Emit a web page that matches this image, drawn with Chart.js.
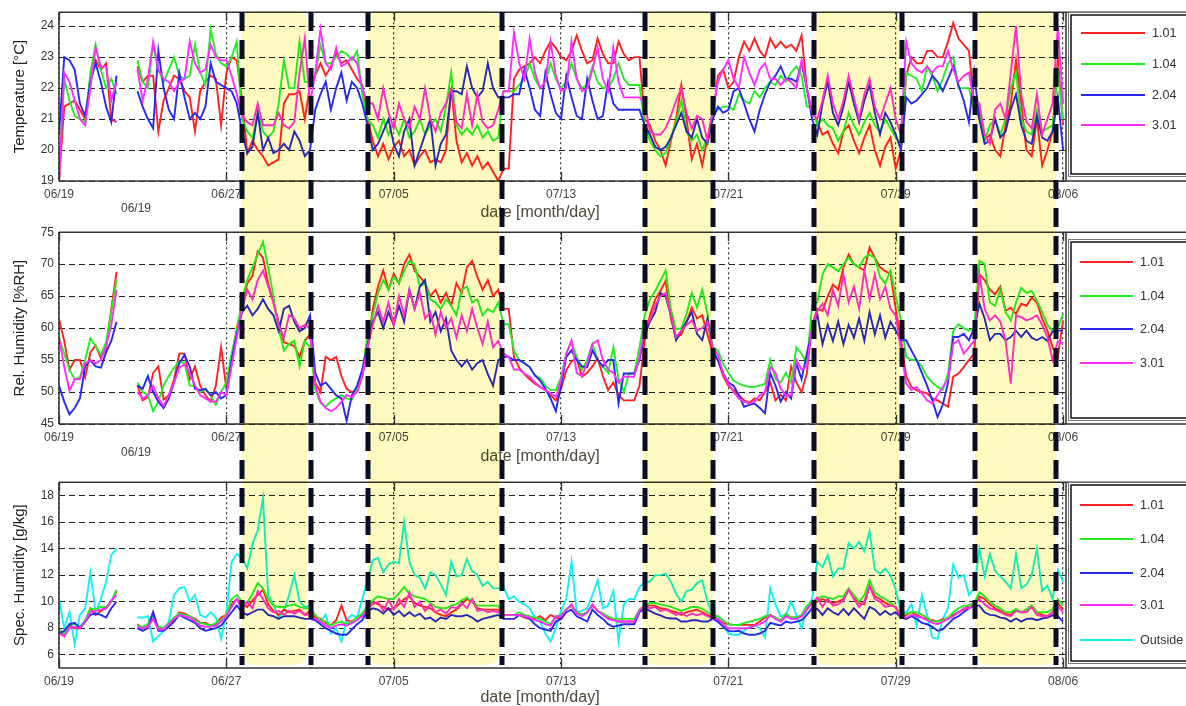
<!DOCTYPE html>
<html>
<head>
<meta charset="utf-8">
<title>Indoor climate June - August</title>
<script src="https://cdn.jsdelivr.net/npm/chart.js@4.4.1/dist/chart.umd.min.js"></script>
<style>
  html, body { margin: 0; padding: 0; background: #fff; }
  #wrap { position: relative; width: 1186px; height: 706px; overflow: hidden; }
  canvas { position: absolute; left: 0; }
</style>
</head>
<body>
<div id="wrap">
  <canvas id="tempChart" width="1186" height="220" style="top:0px"></canvas>
  <canvas id="rhChart" width="1186" height="250" style="top:220px"></canvas>
  <canvas id="shChart" width="1186" height="236" style="top:470px"></canvas>
</div>
<script>
// Samples every 6 hours from 06/19 00:00 (day 0) to 08/06 (day 48)
const stepDays = 0.25;

// Date axis
const tickDays = [0, 8, 16, 24, 32, 40, 48];
const tickLabels = ['06/19', '06/27', '07/05', '07/13', '07/21', '07/29', '08/06'];

// Shaded periods and marker lines (days after 06/19)
const shadeStart = [8.74, 14.76, 27.95, 36.15, 43.8];
const shadeEnd = [11.85, 21.03, 31.25, 40.17, 47.67];
const markerDays = [8.74, 12.04, 14.76, 21.17, 28.0, 31.25, 36.1, 40.3, 43.8, 47.67];

// Y tick values
const tempTicks = [19, 20, 21, 22, 23, 24];
const rhTicks = [45, 50, 55, 60, 65, 70, 75];
const shTicks = [6, 8, 10, 12, 14, 16, 18];

// Temperature [°C]
const tRed = [
19.0,21.4,21.5,21.6, 21.3,21.0,22.3,22.9, 22.6,22.8,21.0,20.9, null,null,null,22.7,
22.2,22.4,22.4,20.6, 21.6,22.0,22.4,22.3, 21.9,21.7,20.6,21.9, 22.2,22.4,22.3,20.8,
22.5,23.0,22.9,21.6, 19.9,20.3,20.0,19.8, 19.5,19.6,19.7,21.5, 21.8,21.8,21.9,21.0,
22.1,22.4,22.8,22.4, 22.7,23.1,22.8,22.9, 22.6,22.3,22.1,21.0, 20.3,19.8,20.2,19.7,
20.1,20.3,19.8,20.0, 19.5,19.8,20.0,19.6, 19.7,19.6,20.0,22.0, 20.3,19.6,19.9,19.5,
19.8,19.4,19.6,19.3, 19.0,19.4,19.4,22.3, 22.6,22.7,22.8,23.0, 22.8,23.2,23.5,23.3,
23.0,22.9,23.2,23.7, 23.2,22.8,22.9,23.6, 23.1,22.8,22.8,23.5, 23.1,22.9,23.0,23.0,
21.0,20.8,20.3,20.0, 19.5,20.3,21.0,22.1, 21.0,19.7,20.2,19.5, 20.4,21.0,22.4,22.6,
22.0,22.2,23.0,23.5, 23.2,23.6,23.2,23.0, 23.6,23.3,23.5,23.3, 23.4,23.2,23.7,22.0,
21.2,20.9,20.5,20.6, 20.2,19.9,20.6,20.8, 20.3,19.9,20.4,20.8, 20.0,19.5,20.1,20.4,
19.4,20.0,22.4,23.0, 22.8,22.8,23.2,23.2, 23.0,23.0,23.5,24.1, 23.6,23.4,23.2,21.5,
21.0,20.3,20.5,20.0, 19.8,20.8,21.5,22.9, 21.5,20.0,19.8,21.0, 19.5,20.0,20.6,23.0,
20.8];
const tGreen = [
19.2,22.3,21.6,21.1, 21.0,20.9,22.5,23.4, 22.6,22.0,22.3,21.8, null,null,null,22.9,
22.2,22.0,23.4,22.6, 22.2,22.6,23.0,22.4, 22.3,22.4,23.4,22.5, 22.1,23.9,23.1,22.8,
22.7,23.0,23.5,21.0, 20.6,20.4,21.2,20.6, 20.4,20.6,21.5,22.9, 22.0,22.0,23.5,22.2,
22.2,22.4,23.4,22.8, 22.8,23.0,23.2,23.1, 22.9,23.2,21.8,21.0, 20.8,20.4,21.0,20.5,
20.9,20.5,21.0,20.4, 20.6,21.0,20.5,20.8, 21.0,20.6,21.4,22.5, 20.8,20.5,20.7,20.5,
20.8,20.4,20.6,20.3, 20.4,21.9,21.9,21.9, 22.1,22.3,22.8,22.3, 22.0,22.2,22.8,22.3,
22.0,22.2,22.8,22.3, 22.0,22.1,22.7,22.2, 22.0,22.0,22.3,22.8, 22.3,22.1,22.1,22.1,
20.8,20.3,20.0,19.8, 19.9,20.4,20.9,21.6, 20.6,20.3,20.5,20.0, 20.4,21.2,21.3,21.4,
21.4,21.3,21.8,21.6, 21.5,21.9,21.7,22.0, 22.2,22.1,22.4,22.2, 22.5,22.7,22.4,21.4,
21.4,20.8,21.0,20.8, 20.7,20.3,20.6,21.2, 20.8,20.5,20.9,21.2, 20.8,20.6,21.0,20.7,
20.4,20.2,22.5,22.4, 22.3,21.9,22.7,22.4, 21.9,22.3,22.8,23.0, 22.0,22.0,22.0,21.3,
21.3,20.3,20.8,21.0, 20.5,21.0,22.0,22.5, 21.0,20.6,20.5,21.3, 20.6,20.7,20.8,22.5,
21.0];
const tBlue = [
20.5,23.0,22.9,22.6, 21.5,21.1,22.2,22.8, 22.2,21.4,20.9,22.4, null,null,null,21.9,
21.4,21.0,20.7,23.2, 22.0,21.3,21.0,22.5, 21.7,21.0,21.2,21.0, 21.4,22.8,22.2,22.1,
22.0,21.9,21.5,20.6, 19.9,20.1,21.2,20.0, 20.4,19.9,20.0,20.2, 20.0,20.6,20.3,19.8,
20.0,21.3,21.8,22.2, 21.3,22.0,22.5,21.6, 22.2,22.0,21.5,20.8, 20.0,20.2,20.6,21.0,
20.2,19.8,20.6,21.0, 19.5,20.0,20.5,21.0, 19.5,20.2,20.5,21.9, 21.9,21.8,22.7,22.0,
21.7,21.9,22.8,22.0, 21.7,21.7,21.7,21.8, 21.8,22.6,22.0,21.3, 21.1,22.5,21.8,21.2,
21.0,22.4,21.7,21.1, 21.0,22.3,21.6,21.0, 21.1,22.2,21.5,21.3, 21.3,21.3,21.3,21.3,
20.8,20.5,20.1,20.0, 20.1,20.4,20.8,21.2, 20.6,20.4,21.0,20.4, 20.2,21.0,21.4,21.2,
21.3,21.9,22.0,21.5, 21.0,20.6,21.3,21.8, 22.2,22.4,22.7,22.3, 22.3,22.2,22.8,22.0,
21.0,20.5,21.5,22.2, 21.2,20.8,21.4,22.2, 21.5,20.9,21.6,22.1, 21.2,20.5,21.2,20.9,
20.5,20.0,21.7,21.5, 21.6,21.8,22.0,22.4, 22.2,21.9,22.3,22.7, 22.1,21.6,20.9,22.5,
21.0,20.2,20.3,21.0, 20.4,20.6,21.3,21.8, 20.8,20.3,20.2,21.1, 20.4,20.3,20.6,21.7,
20.0];
const tMagenta = [
19.0,22.5,22.2,21.6, 21.0,20.8,22.0,23.3, 22.7,22.7,21.6,22.2, null,null,null,22.6,
21.6,22.3,23.5,22.6, 22.3,22.2,21.9,22.2, 22.3,23.5,22.8,22.5, 22.6,23.4,23.0,22.9,
22.9,22.4,21.8,21.1, 20.9,20.8,21.5,20.8, 20.8,20.8,21.2,20.8, 20.7,20.9,22.5,23.6,
21.5,22.5,23.9,22.8, 22.6,23.3,22.7,22.8, 23.0,22.8,22.0,21.5, 21.5,21.0,22.0,21.2,
20.7,21.5,21.0,20.7, 21.4,21.0,22.0,21.0, 20.6,21.2,21.5,22.0, 20.9,20.7,21.8,20.8,
21.8,20.9,20.7,20.8, 21.3,21.9,21.9,23.8, 22.8,22.3,23.6,22.5, 22.0,22.2,23.5,22.4,
21.9,22.0,23.5,22.3, 21.9,22.0,22.6,23.3, 22.3,21.9,23.3,22.2, 21.7,21.7,21.7,21.7,
21.5,20.6,20.5,20.5, 20.7,21.1,21.6,22.0, 21.2,20.7,21.1,21.0, 20.3,21.3,22.2,22.6,
22.9,22.3,22.0,23.0, 22.5,22.1,22.6,22.8, 22.3,22.3,22.1,22.3, 22.2,22.0,22.9,22.0,
21.2,21.0,21.6,22.4, 21.5,21.0,21.6,22.4, 21.7,21.0,21.8,22.3, 21.4,21.0,21.5,22.0,
21.0,20.5,23.5,22.8, 22.6,22.5,22.7,22.5, 22.7,22.7,23.2,22.6, 22.2,22.4,22.5,21.5,
21.5,20.5,20.2,21.3, 21.5,21.0,22.5,24.0, 21.8,20.9,20.7,21.8, 20.5,21.0,21.5,24.0,
21.5];

// Relative humidity [%RH]
const rhRed = [
61.4,58.0,53.5,55.0, 55.0,52.3,56.2,57.3, 55.3,56.8,63.0,68.8, null,null,null,51.0,
48.7,49.2,53.0,54.0, 48.8,49.5,52.0,56.0, 56.0,52.0,54.0,51.0, 49.5,48.5,51.0,57.0,
50.5,55.5,60.0,63.5, 67.0,68.2,72.0,71.0, 67.0,64.0,61.0,57.8, 57.5,57.2,55.5,58.0,
59.0,51.5,50.0,55.5, 55.0,55.5,52.5,50.5, 50.0,50.0,52.5,56.5, 63.0,66.5,69.0,66.0,
68.5,67.0,70.0,71.5, 69.0,68.0,67.0,65.0, 66.0,64.0,65.5,63.5, 67.0,65.5,69.5,70.5,
68.0,66.0,67.5,65.0, 66.0,63.0,63.0,55.5, 53.8,52.8,52.0,51.3, 50.8,50.3,49.5,48.7,
50.5,53.4,54.8,55.3, 52.4,53.0,54.0,55.3, 52.5,50.3,51.5,49.5, 48.7,48.7,48.7,51.0,
58.0,62.0,64.5,65.8, 67.4,61.5,58.5,59.0, 61.0,63.2,61.5,62.0, 59.0,56.0,55.0,52.5,
51.0,50.3,49.5,48.7, 48.3,49.0,48.7,50.0, 51.5,48.7,49.6,48.7, 54.0,51.5,50.0,52.9,
60.6,63.0,62.7,65.0, 66.8,66.0,69.5,71.5, 70.0,69.5,69.0,72.6, 71.0,69.5,68.9,68.5,
63.0,58.1,52.5,50.8, 50.3,50.0,49.8,49.0, 48.7,48.2,47.7,52.4, 52.9,53.9,55.0,56.0,
68.4,67.5,66.0,65.3, 66.5,62.7,63.2,62.2, 63.8,63.5,64.8,64.0, 61.5,59.6,57.0,55.5,
61.2];
const rhGreen = [
58.5,56.0,53.5,52.0, 52.3,55.0,58.4,57.2, 55.8,57.8,62.5,67.5, null,null,null,51.5,
50.0,49.5,47.0,48.5, 51.0,52.5,53.8,54.8, 54.5,51.0,51.0,50.0, 50.5,49.5,48.0,50.0,
51.5,56.0,59.5,64.5, 67.5,69.5,71.5,73.5, 69.5,65.0,60.0,56.5, 57.5,58.0,54.0,58.0,
57.0,50.5,48.3,47.7, 48.5,49.0,49.5,49.0, 48.8,50.5,53.0,59.0, 62.0,65.5,67.5,66.0,
68.0,67.0,69.0,70.5, 70.0,66.5,67.0,64.5, 64.0,63.0,64.5,63.5, 62.0,66.0,66.5,64.0,
64.5,62.0,63.0,62.5, 64.0,60.6,60.6,56.5, 55.0,54.5,53.9,52.6, 52.2,51.0,50.3,50.3,
52.3,56.0,57.8,55.5, 53.5,55.0,57.5,55.0, 54.0,53.0,57.0,52.0, 50.0,52.9,52.9,57.0,
62.0,64.5,65.8,67.4, 69.0,63.0,59.8,60.0, 62.2,65.5,63.2,66.0, 62.2,57.0,56.5,54.4,
53.0,51.8,51.3,51.0, 50.8,50.8,51.0,51.3, 55.0,52.0,51.5,53.0, 51.5,57.0,56.0,54.5,
63.5,64.0,68.4,70.0, 69.5,68.9,70.0,71.0, 70.0,69.5,71.0,71.5, 71.0,68.0,67.0,69.0,
65.0,61.2,55.5,55.0, 55.0,54.0,52.4,51.5, 50.8,50.3,52.9,59.6, 60.6,60.0,59.6,60.0,
70.5,70.0,64.0,63.5, 66.0,62.5,61.2,64.0, 66.3,65.5,65.8,64.3, 62.5,60.5,59.6,60.0,
62.2];
const rhBlue = [
51.0,48.5,46.5,47.5, 49.0,54.0,55.0,54.0, 53.8,56.2,58.0,61.0, null,null,null,51.0,
50.5,52.5,50.0,48.5, 47.5,49.0,51.5,54.5, 55.8,54.0,50.5,50.3, 50.5,49.5,50.0,49.0,
49.5,55.0,59.0,62.5, 63.5,62.0,63.0,64.5, 63.0,62.0,59.5,63.0, 63.5,61.0,59.5,60.0,
62.0,53.0,51.0,51.5, 50.5,49.5,49.0,45.5, 49.5,51.0,53.5,57.5, 61.0,62.5,60.0,62.5,
60.5,63.5,61.0,66.0, 63.0,66.5,67.5,61.0, 62.5,59.5,61.5,56.5, 55.0,54.0,55.0,53.5,
54.5,55.0,52.8,51.0, 55.0,55.5,55.5,55.0, 55.0,54.5,53.9,52.6, 51.8,50.5,49.0,47.0,
51.0,55.5,56.5,55.0, 54.0,53.9,56.5,55.0, 54.0,55.0,55.0,48.2, 52.9,52.9,52.9,55.0,
59.0,61.0,62.5,65.5, 65.0,62.0,58.1,59.6, 61.0,62.5,59.1,58.1, 61.5,56.5,55.0,53.0,
51.5,51.0,49.5,47.7, 48.0,48.2,47.5,46.7, 53.0,51.0,48.5,50.0, 49.0,54.5,52.0,56.0,
59.6,62.2,57.5,60.5, 58.0,61.0,57.5,60.5, 58.5,61.5,58.0,62.5, 59.0,62.0,58.5,61.0,
59.6,58.1,58.1,56.5, 55.0,53.0,51.0,48.7, 46.1,48.0,51.5,58.6, 58.6,59.1,58.1,60.0,
63.8,61.5,58.1,59.1, 59.1,58.1,58.6,59.6, 58.6,59.6,58.5,58.1, 58.6,58.0,59.5,59.6,
59.6];
const rhMagenta = [
58.5,54.0,50.2,52.0, 52.0,54.5,55.0,54.5, 55.0,57.2,60.5,66.0, null,null,null,50.0,
49.0,49.5,51.0,49.0, 47.8,49.5,51.5,53.8, 54.3,53.0,51.0,49.5, 49.0,48.5,48.5,50.0,
49.5,54.0,58.5,63.0, 66.0,64.5,67.5,69.0, 66.5,64.0,60.5,58.5, 62.0,61.5,60.0,60.5,
60.0,51.0,48.5,47.5, 47.0,47.5,48.5,49.5, 49.2,50.0,52.5,57.0, 60.5,63.5,61.0,64.0,
60.5,65.0,62.0,66.0, 63.0,65.5,61.5,62.5, 59.0,62.5,60.0,61.5, 58.5,62.0,59.5,63.0,
60.0,57.5,61.0,57.0, 58.0,56.0,55.5,53.5, 53.5,52.9,52.4,51.5, 50.8,50.3,49.8,49.3,
51.8,56.0,58.1,53.0, 52.5,54.5,57.5,58.1, 55.0,53.5,53.0,51.5, 52.4,52.4,52.4,55.5,
60.0,61.2,63.5,65.0, 65.5,62.0,58.6,59.6, 60.5,61.2,59.6,60.0, 61.0,57.0,55.8,52.9,
51.3,50.0,49.0,48.5, 48.2,48.5,49.5,50.0, 53.9,53.0,50.5,49.5, 49.5,55.0,53.5,54.0,
60.0,62.7,63.8,62.0, 66.0,63.5,68.4,64.0, 66.5,63.0,69.0,64.5, 68.4,64.5,66.5,63.0,
62.0,56.5,51.3,50.3, 50.8,49.8,48.7,48.2, 49.5,50.8,52.0,57.5, 58.1,56.0,57.0,58.0,
68.4,63.0,61.2,62.0, 61.0,58.0,51.3,62.0, 61.7,61.2,61.5,62.0, 60.5,58.6,55.0,58.0,
57.5];

// Specific humidity [g/kg]
const shRed = [
7.8,7.4,8.2,8.0, 8.0,8.5,9.5,9.0, 9.3,9.5,10.0,10.8, null,null,null,8.3,
8.0,8.2,9.2,8.0, 8.0,8.3,8.6,9.2, 9.1,8.9,8.7,8.4, 8.4,8.2,8.3,8.8,
9.0,9.8,10.2,9.8, 9.6,10.1,10.5,10.9, 9.8,9.3,9.0,9.4, 9.2,9.3,9.4,9.0,
9.3,8.8,8.7,8.4, 8.2,8.6,9.7,8.6, 8.5,8.8,9.0,9.6, 10.0,9.8,9.6,9.4,
9.5,9.8,10.2,10.4, 9.9,9.7,9.6,9.5, 9.2,9.0,8.9,9.2, 9.4,9.8,10.2,10.0,
9.5,9.4,9.4,9.4, 9.4,9.0,9.0,9.0, 9.0,8.8,8.7,8.7, 8.9,8.6,9.0,8.8,
8.7,9.4,9.7,9.2, 9.0,9.2,9.7,9.3, 9.1,8.8,8.7,8.5, 8.5,8.5,8.5,9.4,
9.7,9.7,9.7,9.5, 9.45,9.3,9.2,9.0, 9.2,9.3,9.4,9.2, 9.0,8.8,8.7,8.4,
8.3,8.25,8.25,8.25, 8.25,8.25,8.5,8.8, 9.0,8.8,8.5,8.9, 8.8,8.8,8.9,9.4,
9.9,10.0,10.2,10.0, 9.9,10.0,10.2,10.9, 10.3,9.9,9.8,11.2, 10.4,10.2,9.9,9.7,
9.6,8.8,9.0,9.2, 9.0,8.8,8.7,8.6, 8.5,8.7,8.7,9.0, 9.2,9.4,9.7,9.9,
10.4,10.2,9.8,9.5, 9.3,9.1,9.0,9.4, 9.2,9.4,9.7,9.2, 9.0,8.9,9.2,9.9,
9.4];
const shGreen = [
7.9,7.6,8.3,8.3, 8.1,8.6,9.5,9.4, 9.6,9.6,10.0,10.9, null,null,null,8.2,
8.1,8.3,8.9,8.1, 8.0,8.4,8.8,9.1, 9.0,8.9,8.6,8.4, 8.3,8.2,8.4,8.6,
9.0,10.2,10.5,10.0, 9.9,10.6,11.4,11.0, 10.2,9.7,9.6,9.6, 9.7,9.8,9.6,9.5,
9.5,9.0,8.6,8.5, 8.2,8.4,8.5,8.3, 8.5,8.8,9.1,9.7, 10.1,10.4,10.3,10.2,
10.2,10.6,11.1,10.6, 10.4,10.3,10.2,9.9, 9.6,9.5,9.5,9.7, 9.8,10.1,10.3,10.0,
9.7,9.7,9.7,9.7, 9.7,9.0,9.0,9.0, 9.2,9.0,8.9,8.8, 8.7,8.5,8.3,8.9,
9.0,9.4,9.7,9.2, 9.0,9.2,9.8,9.3, 9.1,8.9,8.7,8.7, 8.7,8.7,8.7,9.4,
9.6,9.9,9.9,9.8, 9.7,9.6,9.45,9.3, 9.45,9.6,9.6,9.45, 9.2,9.0,8.9,8.6,
8.3,8.24,8.24,8.4, 8.48,8.6,8.7,8.9, 8.97,8.8,8.6,9.1, 8.8,8.8,9.0,9.7,
10.0,10.2,10.4,10.3, 10.2,10.4,10.4,11.0, 10.5,10.0,10.5,11.6, 10.7,10.4,10.2,9.9,
9.6,9.0,9.1,9.2, 9.2,9.0,8.8,8.5, 8.5,8.6,8.8,9.2, 9.5,9.7,9.7,9.9,
10.7,10.4,10.0,9.7, 9.5,9.2,9.2,9.45, 9.2,9.4,9.7,9.2, 9.2,9.2,9.45,10.2,
9.7];
const shBlue = [
7.6,7.8,8.3,8.4, 8.0,8.5,9.0,9.1, 9.0,8.8,9.5,10.0, null,null,null,8.0,
7.8,8.0,9.2,7.8, 7.8,8.1,8.5,9.0, 8.8,8.6,8.4,8.0, 7.8,7.9,8.0,8.2,
8.7,9.2,9.7,9.2, 9.0,9.2,9.4,9.4, 9.0,8.9,8.7,8.9, 8.9,8.9,8.8,8.7,
8.7,8.6,8.3,8.0, 7.8,7.6,7.5,7.5, 7.9,8.3,8.6,9.3, 9.5,9.4,9.1,9.5,
9.0,9.3,8.9,9.2, 8.9,9.1,8.7,8.8, 8.5,8.8,8.7,9.0, 8.9,8.9,9.0,8.8,
8.5,8.7,8.8,8.9, 9.0,8.7,8.7,8.7, 9.0,8.9,8.7,8.3, 8.0,7.9,7.8,8.5,
8.7,9.2,9.4,8.9, 8.7,8.5,9.4,9.0, 8.7,8.3,8.1,8.2, 8.3,8.3,8.3,9.2,
9.5,9.3,9.1,8.97, 8.8,8.73,8.73,8.5, 8.5,8.6,8.6,8.5, 8.5,8.7,8.5,8.1,
7.8,7.76,7.8,7.6, 7.5,7.5,7.6,7.8, 8.4,8.3,8.2,8.5, 8.4,8.5,8.6,9.0,
9.5,9.45,9.0,9.5, 9.2,9.0,9.45,9.0, 9.5,9.1,8.7,9.6, 9.4,9.0,9.3,9.0,
9.2,8.8,8.7,8.9, 8.7,8.4,8.3,8.1, 7.8,7.9,8.3,8.7, 8.9,9.2,9.5,9.7,
9.7,9.2,9.0,8.97, 8.8,8.73,8.5,8.73, 8.5,8.7,8.73,8.6, 8.73,8.8,8.97,8.9,
8.5];
const shMagenta = [
7.6,7.4,8.0,8.1, 8.0,8.5,9.2,9.3, 9.4,9.5,10.1,10.5, null,null,null,8.1,
8.0,8.1,8.7,7.9, 7.9,8.3,8.7,9.0, 8.9,8.8,8.5,8.2, 8.1,8.1,8.2,8.5,
8.9,9.6,10.2,9.4, 10.0,9.5,10.8,10.2, 9.5,9.2,9.3,9.0, 9.3,9.1,9.3,9.0,
9.0,8.7,8.5,8.2, 8.0,8.2,8.3,8.2, 8.4,8.6,8.9,9.5, 9.8,10.0,9.3,10.1,
9.4,10.2,9.6,10.7, 9.6,10.0,9.3,9.8, 9.2,9.4,9.1,9.6, 9.5,9.9,9.5,10.2,
9.3,9.4,9.2,9.3, 9.2,9.0,9.0,9.0, 9.0,8.9,8.8,8.6, 8.5,8.3,8.2,8.9,
8.9,9.4,9.8,9.1, 8.9,9.2,9.8,9.3, 9.0,8.7,8.6,8.5, 8.5,8.5,8.5,9.3,
9.7,9.5,9.6,9.3, 9.4,9.2,9.0,9.2, 8.9,9.1,8.97,9.1, 8.9,8.73,8.7,8.3,
8.0,8.0,8.0,8.0, 8.0,8.2,8.3,8.5, 8.97,8.7,8.5,8.9, 8.7,8.7,8.9,9.4,
9.9,10.3,9.6,10.2, 9.7,9.8,10.1,10.9, 10.2,9.6,10.0,11.2, 10.2,10.0,9.6,9.7,
9.6,8.8,8.8,9.0, 8.9,8.8,8.6,8.4, 8.3,8.5,8.7,8.9, 9.2,9.5,9.5,9.8,
10.2,9.8,9.5,9.4, 9.2,9.0,8.9,9.3, 9.2,9.2,9.6,9.0, 8.9,8.9,9.2,9.6,
9.2];
const shOutside = [
10.2,8.0,9.2,6.8, 9.0,9.5,12.2,9.2, 10.2,11.5,13.5,14.0, null,null,null,8.8,
8.8,8.9,7.0,7.4, 7.8,8.5,10.5,11.0, 11.1,10.0,10.5,9.0, 8.8,9.2,8.8,7.2,
9.2,13.0,13.6,13.3, 12.5,14.3,15.4,17.8, 10.5,9.8,8.8,9.3, 10.5,12.0,10.0,9.6,
9.7,8.7,8.5,9.0, 7.6,8.0,7.0,8.6, 9.0,8.8,10.2,11.7, 13.1,13.3,12.2,12.8,
13.0,12.9,16.0,13.0, 12.0,11.8,11.0,12.2, 12.0,11.3,10.5,13.0, 11.9,12.0,13.2,12.3,
12.0,11.2,11.5,11.0, 11.0,11.1,10.2,10.4, 10.0,9.8,9.5,8.8, 8.5,7.6,7.0,8.0,
9.3,10.2,13.0,9.2, 9.3,9.5,10.5,11.6, 9.5,9.7,10.8,7.0, 9.8,10.2,10.2,11.1,
11.5,11.5,12.0,12.0, 12.1,11.5,10.6,10.0, 10.8,10.9,11.4,11.6, 10.0,9.0,8.7,8.2,
7.6,7.5,7.5,7.8, 8.1,8.2,8.0,7.3, 11.0,9.8,8.9,9.0, 10.0,9.0,8.0,9.5,
10.2,13.0,12.6,13.5, 11.9,12.5,12.5,14.4, 14.0,14.5,13.8,15.3, 12.4,12.1,12.5,12.0,
10.9,9.2,9.2,9.8, 8.2,10.5,9.0,7.3, 7.2,8.7,9.5,12.8, 11.8,12.0,10.5,11.0,
14.0,11.9,13.6,12.3, 11.9,11.5,11.0,13.6, 11.0,11.3,12.0,14.0, 10.8,11.2,10.2,12.4,
11.5];

const sampleDays = tRed.map((_, i) => i * stepDays);

const seriesColors = {
    '1.01': '#ff2222',
    '1.04': '#22ee22',
    '2.04': '#2828ee',
    '3.01': '#ff2dff',
    'Outside': '#12f2f2'
};
// lower order is drawn on top
const seriesOrder = { '1.01': 4, '1.04': 3, '2.04': 2, '3.01': 1, 'Outside': 5 };

const fontFamily = "'Liberation Sans', Arial, sans-serif";
Chart.defaults.font.family = fontFamily;

[tRed, tGreen, tBlue, tMagenta, rhRed, rhGreen, rhBlue, rhMagenta,
 shRed, shGreen, shBlue, shMagenta, shOutside].forEach((arr, i) => {
    if (arr.length !== sampleDays.length) console.error('series ' + i + ' length ' + arr.length);
});

// Decorations: frame, legend box, labels, yellow periods and marker lines
function decorPlugin(cfg) {
    return {
        id: 'decor',
        beforeDraw(chart) {
            const ctx = chart.ctx;
            ctx.save();
            ctx.fillStyle = '#ffffff';
            ctx.fillRect(0, 0, chart.width, chart.height);
            ctx.restore();
        },
        afterDraw(chart) {
            const ctx = chart.ctx;
            const a = chart.chartArea;
            const x = chart.scales.x;
            ctx.save();

            // plot frame, extended under the legend
            ctx.strokeStyle = '#333';
            ctx.lineWidth = 1.5;
            ctx.beginPath();
            ctx.moveTo(a.left, a.top); ctx.lineTo(chart.width, a.top);
            ctx.moveTo(a.left, a.bottom); ctx.lineTo(chart.width, a.bottom);
            ctx.moveTo(a.left, a.top); ctx.lineTo(a.left, a.bottom);
            ctx.moveTo(a.right, a.top); ctx.lineTo(a.right, a.bottom);
            ctx.stroke();

            // inner tick marks on the date ticks
            ctx.lineWidth = 1.3;
            ctx.beginPath();
            tickDays.forEach(d => {
                const px = Math.round(x.getPixelForValue(d)) + 0.5;
                ctx.moveTo(px, a.top); ctx.lineTo(px, a.top + 9);
                ctx.moveTo(px, a.bottom); ctx.lineTo(px, a.bottom - 9);
            });
            ctx.stroke();

            // legend
            const lg = cfg.legend;
            ctx.strokeStyle = '#777';
            ctx.lineWidth = 1;
            ctx.strokeRect(1068.5, lg.top - 0.5, 140, lg.bottom - lg.top + 1);
            ctx.strokeStyle = '#111';
            ctx.lineWidth = 1.5;
            ctx.strokeRect(1071, lg.top + 2, 140, lg.bottom - lg.top - 4);
            ctx.font = '12.5px ' + fontFamily;
            ctx.textAlign = 'left';
            ctx.textBaseline = 'middle';
            cfg.series.forEach((s, i) => {
                const y = lg.rows[i];
                ctx.strokeStyle = seriesColors[s.name];
                ctx.lineWidth = 1.8;
                ctx.beginPath();
                ctx.moveTo(lg.lineFrom, y); ctx.lineTo(lg.lineTo, y);
                ctx.stroke();
                ctx.fillStyle = '#333';
                ctx.fillText(s.name, lg.textX, y + 1);
            });

            // axis caption and stray label
            ctx.fillStyle = '#4f4838';
            ctx.font = '16px ' + fontFamily;
            ctx.textAlign = 'center';
            ctx.fillText('date [month/day]', 540, cfg.captionY);
            if (cfg.strayY) {
                ctx.fillStyle = '#444';
                ctx.font = '12px ' + fontFamily;
                ctx.fillText(tickLabels[0], 136, cfg.strayY);
            }

            // yellow periods, multiplied over everything below
            ctx.globalCompositeOperation = 'multiply';
            ctx.fillStyle = 'rgb(255, 250, 192)';
            shadeStart.forEach((s, i) => {
                const x0 = x.getPixelForValue(s);
                const x1 = x.getPixelForValue(shadeEnd[i]);
                ctx.beginPath();
                ctx.roundRect(x0, cfg.shadeTop, x1 - x0, cfg.shadeBottom - cfg.shadeTop, cfg.shadeRadii);
                ctx.fill();
            });
            ctx.globalCompositeOperation = 'source-over';

            // thick dashed marker lines
            ctx.strokeStyle = '#0c0c22';
            ctx.lineWidth = 5;
            ctx.setLineDash([19, 9]);
            ctx.lineDashOffset = cfg.pageTop + cfg.dashTop - 12;
            markerDays.forEach(d => {
                const px = Math.round(x.getPixelForValue(d));
                ctx.beginPath();
                ctx.moveTo(px, cfg.dashTop);
                ctx.lineTo(px, cfg.dashBottom);
                ctx.stroke();
            });
            ctx.restore();
        }
    };
}

function makePanel(cfg) {
    const datasets = cfg.series.map(s => ({
        label: s.name,
        data: s.values,
        borderColor: seriesColors[s.name],
        backgroundColor: seriesColors[s.name],
        borderWidth: 1.9,
        pointRadius: 0,
        tension: 0,
        spanGaps: false,
        order: seriesOrder[s.name]
    }));
    return new Chart(document.getElementById(cfg.canvas), {
        type: 'line',
        data: { labels: sampleDays, datasets: datasets },
        options: {
            responsive: false,
            animation: false,
            events: [],
            layout: { padding: { top: cfg.padTop, right: 120, left: 0, bottom: 0 } },
            plugins: { legend: { display: false }, tooltip: { enabled: false } },
            scales: {
                x: {
                    type: 'linear',
                    min: 0,
                    max: 48.14,
                    afterBuildTicks: s => { s.ticks = tickDays.map(v => ({ value: v })); },
                    afterFit: s => { s.height = cfg.xAxisHeight; },
                    ticks: {
                        callback: (v, i) => tickLabels[i],
                        padding: 6,
                        color: '#444',
                        font: { size: 12 },
                        maxRotation: 0,
                        autoSkip: false
                    },
                    grid: { color: '#333', lineWidth: 1.2, drawTicks: false },
                    border: { display: false, dash: [2, 3] }
                },
                y: {
                    min: cfg.yMin,
                    max: cfg.yMax,
                    afterBuildTicks: s => { s.ticks = cfg.yTicks.map(v => ({ value: v })); },
                    afterFit: s => { s.width = 59; },
                    ticks: { padding: 5, color: '#333', font: { size: 12 }, autoSkip: false },
                    grid: { color: '#222', lineWidth: 1, drawTicks: false },
                    border: { display: false, dash: [6, 4] },
                    title: {
                        display: true,
                        text: cfg.yTitle,
                        color: '#222',
                        font: { size: 15 },
                        padding: { top: 11, bottom: 0 }
                    }
                }
            }
        },
        plugins: [decorPlugin(cfg)]
    });
}

// Temperature panel
makePanel({
    canvas: 'tempChart', pageTop: 0, padTop: 10, xAxisHeight: 39,
    yMin: 19, yMax: 24.45, yTicks: tempTicks, yTitle: 'Temperature [°C]',
    series: [
        { name: '1.01', values: tRed },
        { name: '1.04', values: tGreen },
        { name: '2.04', values: tBlue },
        { name: '3.01', values: tMagenta }
    ],
    legend: { top: 13, bottom: 176, rows: [33, 64, 95, 125], lineFrom: 1081, lineTo: 1145, textX: 1152 },
    captionY: 213, strayY: 209,
    shadeTop: 11, shadeBottom: 220, shadeRadii: [10, 10, 0, 0],
    dashTop: 12, dashBottom: 220
});

// Relative humidity panel
makePanel({
    canvas: 'rhChart', pageTop: 220, padTop: 11, xAxisHeight: 46,
    yMin: 45, yMax: 75, yTicks: rhTicks, yTitle: 'Rel. Humidity [%RH]',
    series: [
        { name: '1.01', values: rhRed },
        { name: '1.04', values: rhGreen },
        { name: '2.04', values: rhBlue },
        { name: '3.01', values: rhMagenta }
    ],
    legend: { top: 20, bottom: 200, rows: [42, 76, 109, 143], lineFrom: 1080, lineTo: 1133, textX: 1140 },
    captionY: 237, strayY: 233,
    shadeTop: 0, shadeBottom: 250, shadeRadii: 0,
    dashTop: 0, dashBottom: 250
});

// Specific humidity panel
makePanel({
    canvas: 'shChart', pageTop: 470, padTop: 5, xAxisHeight: 38,
    yMin: 5, yMax: 19, yTicks: shTicks, yTitle: 'Spec. Humidity [g/kg]',
    series: [
        { name: '1.01', values: shRed },
        { name: '1.04', values: shGreen },
        { name: '2.04', values: shBlue },
        { name: '3.01', values: shMagenta },
        { name: 'Outside', values: shOutside }
    ],
    legend: { top: 13, bottom: 193, rows: [35, 69, 103, 135, 170], lineFrom: 1080, lineTo: 1133, textX: 1140 },
    captionY: 228, strayY: null,
    shadeTop: 0, shadeBottom: 195, shadeRadii: [0, 0, 12, 12],
    dashTop: 0, dashBottom: 195
});
</script>
</body>
</html>
